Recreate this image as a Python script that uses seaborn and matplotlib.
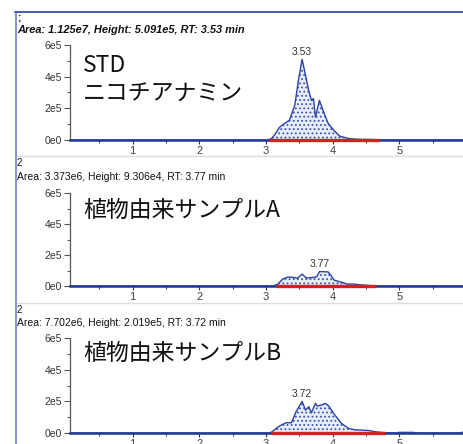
import numpy as np
import pandas as pd
import matplotlib
matplotlib.use('Agg')
import matplotlib.pyplot as plt
from matplotlib.lines import Line2D
import seaborn as sns

# chromatogram traces (time in min, intensity)
t_std = [0.06, 3.02, 3.08, 3.14, 3.2, 3.28, 3.35, 3.43, 3.49, 3.54, 3.59, 3.64, 3.68, 3.71,
         3.74, 3.8, 3.86, 3.93, 4.02, 4.1, 4.16, 4.25, 4.4, 4.6, 4.75, 6.4]
y_std = [0, 0, 8e3, 4e4, 8e4, 1.05e5, 1.25e5, 2.2e5, 3.9e5, 5.09e5, 4.1e5, 3.1e5, 2.5e5, 2.62e5,
         1.45e5, 2.5e5, 1.8e5, 1.05e5, 6e4, 2.5e4, 1.8e4, 8e3, 4e3, 3e3, 0, 0]

t_a = [0.06, 3.1, 3.17, 3.25, 3.33, 3.42, 3.47, 3.54, 3.6, 3.7, 3.76, 3.8, 3.93, 3.97, 4.02,
       4.13, 4.22, 4.3, 4.4, 4.5, 4.65, 6.4]
y_a = [0, 0, 1e4, 4.5e4, 5.8e4, 5.5e4, 5e4, 7.7e4, 5.2e4, 5.5e4, 6e4, 9.3e4, 9.1e4, 7e4, 3.8e4,
       2.4e4, 1.2e4, 1.3e4, 8e3, 5e3, 0, 0]

t_b = [0.06, 3.02, 3.08, 3.14, 3.2, 3.3, 3.38, 3.45, 3.54, 3.59, 3.64, 3.68, 3.74, 3.77, 3.83,
       3.89, 3.94, 4.03, 4.13, 4.23, 4.33, 4.45, 4.55, 4.63, 4.75, 4.9, 5.0, 5.2, 5.27, 5.35,
       5.9, 5.95, 6.0, 6.4]
y_b = [0, 0, 5e3, 2.5e4, 4.4e4, 6.5e4, 6.5e4, 1.35e5, 2.0e5, 1.45e5, 1.66e5, 1.28e5, 1.87e5,
       1.7e5, 1.77e5, 1.87e5, 1.7e5, 1.14e5, 6.1e4, 3e4, 2e4, 1.8e4, 1.5e4, 8e3, 3e3, 0, 4e3,
       4e3, 0, 0, 0, 5e3, 0, 0]

# integration baselines (start, end)
baselines = [(3.05, 4.7), (3.15, 4.65), (3.08, 4.78)]
peak_labels = ['3.53', '3.77', '3.72']
sample_names = [['STD', 'ニコチアナミン'], ['植物由来サンプルA'], ['植物由来サンプルB']]
headers = ['Area: 1.125e7, Height: 5.091e5, RT: 3.53 min',
           'Area: 3.373e6, Height: 9.306e4, RT: 3.77 min',
           'Area: 7.702e6, Height: 2.019e5, RT: 3.72 min']
header_marks = [';', '2', '2']
ytick_vals = [0, 2e5, 4e5, 6e5]
ytick_labels = ['0e0', '2e5', '4e5', '6e5']
xtick_vals = [1, 2, 3, 4, 5, 6]

sns.set_style('ticks')
plt.rcParams['font.family'] = ['Liberation Sans', 'DejaVu Sans']
plt.rcParams['hatch.linewidth'] = 0.8

W, H = 464, 444
fig = plt.figure(figsize=(W / 100, H / 100), dpi=100)
fig.patch.set_facecolor('white')

def px(x, y):
    return x / W, 1 - y / H

# axes geometry in pixels: (zero line y, 6e5 line y)
ax_rows = [(140, 45), (286, 193), (433, 338)]
x_left = 70
ppm = 66.7  # px per minute
xlim = (0.06, 6.4)
traces = [(t_std, y_std), (t_a, y_a), (t_b, y_b)]
header_y = [30, 177, 323]
mark_y = [17, 163, 310]
name_y = [[65, 93], [210], [353]]
header_size = [7.9, 7.5, 7.5]

blue = '#2a44a0'
for i, (t, y) in enumerate(traces):
    y0, y6 = ax_rows[i]
    ax = fig.add_axes([x_left / W, 1 - y0 / H, (xlim[1] - xlim[0]) * ppm / W, (y0 - y6) / H])
    ax.set_facecolor('none')
    df = pd.DataFrame({'time': t, 'intensity': y})
    ax.fill_between(df['time'], 0, df['intensity'], facecolor='#e9edf8', edgecolor='#3a55b0',
                    hatch='....', linewidth=0, zorder=1)
    sns.lineplot(data=df, x='time', y='intensity', ax=ax, color=blue, lw=1.0,
                 estimator=None, sort=False, zorder=3)
    b0, b1 = baselines[i]
    ax.plot([b0, b1], [0, 0], color='#d42020', lw=2.4, solid_capstyle='butt', zorder=10,
            clip_on=False)
    k = int(np.argmax(y))
    ax.annotate(peak_labels[i], (t[k], y[k]), xytext=(0, 2), textcoords='offset points',
                ha='center', va='bottom', fontsize=7.5, color='#333333')
    ax.set_xlim(*xlim)
    ax.set_ylim(0, 6e5)
    ax.set_yticks(ytick_vals)
    ax.set_yticklabels(ytick_labels)
    ax.set_yticks([1e5, 3e5, 5e5], minor=True)
    ax.set_xticks(xtick_vals)
    ax.set_xticklabels([str(v) for v in xtick_vals])
    ax.set_xticks(np.arange(0.5, 6.5, 1.0), minor=True)
    ax.set_xlabel('')
    ax.set_ylabel('')
    for s in ['top', 'right']:
        ax.spines[s].set_visible(False)
    ax.spines['left'].set_color('#555555')
    ax.spines['left'].set_linewidth(0.9)
    ax.spines['bottom'].set_color('#1f3a8a')
    ax.spines['bottom'].set_linewidth(1.8)
    ax.tick_params(axis='y', which='major', length=4, width=0.8, color='#555555',
                   labelsize=7.5, labelcolor='#333333', pad=2)
    ax.tick_params(axis='y', which='minor', length=2, width=0.7, color='#555555')
    ax.tick_params(axis='x', which='major', length=3, width=0.8, color='#333333',
                   labelsize=8, labelcolor='#404040', pad=1)
    ax.tick_params(axis='x', which='minor', length=2, width=0.7, color='#333333')

    # headers
    weight = 'bold' if i == 0 else 'normal'
    style = 'italic' if i == 0 else 'normal'
    fig.text(*px(17, header_y[i]), headers[i], fontsize=header_size[i], va='center', ha='left',
             weight=weight, style=style, color='#111111')
    fig.text(*px(17, mark_y[i]), header_marks[i], fontsize=7, va='center', ha='left',
             weight=weight, color='#111111')
    for line, yy in zip(sample_names[i], name_y[i]):
        fig.text(*px(83, yy), line, fontsize=16.5, va='center', ha='left', color='#111111',
                 family=['Noto Sans CJK JP', 'DejaVu Sans'])

# frame lines of the viewer panels
fig.add_artist(Line2D([16 / W, 16 / W], [1 - 12 / H, 0], color='#8c96d2', lw=1.5))
fig.add_artist(Line2D([15 / W, 1], [1 - 12 / H, 1 - 12 / H], color='#2a3f9a', lw=1.2))
for yy in [156, 303]:
    fig.add_artist(Line2D([17 / W, 1], [1 - yy / H, 1 - yy / H], color='#dddddd', lw=1.0))

fig.savefig('out.png', dpi=100)
